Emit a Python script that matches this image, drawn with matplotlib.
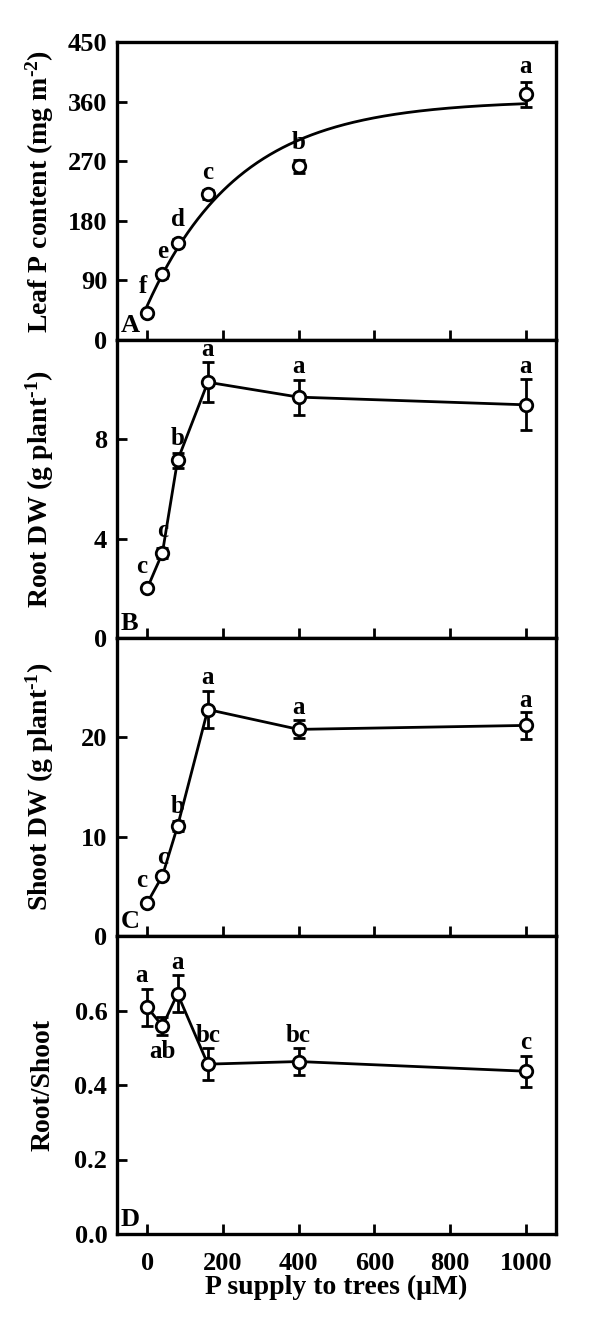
import numpy as np
import matplotlib
matplotlib.use('Agg')
import matplotlib.pyplot as plt

plt.rcParams['font.family'] = ['Liberation Serif', 'DejaVu Serif']
plt.rcParams['font.weight'] = 'bold'
plt.rcParams['mathtext.fontset'] = 'custom'
plt.rcParams['mathtext.rm'] = 'Liberation Serif:bold'
plt.rcParams['mathtext.it'] = 'Liberation Serif:bold'
plt.rcParams['mathtext.bf'] = 'Liberation Serif:bold'

# P supply levels (uM)
p_supply = [0, 40, 80, 160, 400, 1000]

# Panel A: leaf P content (mg m-2)
leaf_p = [41, 100, 147, 220, 262, 371]
leaf_p_err = [5, 6, 5, 7, 10, 19]
leaf_p_letters = ['f', 'e', 'd', 'c', 'b', 'a']
# fitted saturating curve  y = a - b*exp(-k x)
fit_a, fit_b, fit_k = 362.0, 310.0, 0.0041

# Panel B: root DW (g plant-1)
root_dw = [2.0, 3.43, 7.15, 10.3, 9.7, 9.39]
root_dw_err = [0.1, 0.2, 0.3, 0.8, 0.7, 1.03]
root_letters = ['c', 'c', 'b', 'a', 'a', 'a']

# Panel C: shoot DW (g plant-1)
shoot_dw = [3.35, 6.06, 11.05, 22.8, 20.8, 21.2]
shoot_dw_err = [0.2, 0.3, 0.5, 1.9, 0.9, 1.35]
shoot_letters = ['c', 'c', 'b', 'a', 'a', 'a']

# Panel D: root/shoot ratio
ratio = [0.609, 0.558, 0.645, 0.456, 0.463, 0.437]
ratio_err = [0.05, 0.025, 0.05, 0.043, 0.035, 0.042]
ratio_letters = ['a', 'ab', 'a', 'bc', 'bc', 'c']

# letter offsets in points (dx, dy); below=True puts the letter under the bar
offs_a = [(-3, 8), (0, 5), (0, 6), (0, 4), (0, 4), (0, 3)]
offs_b = [(-4, 6), (0, 4), (0, 2), (0, 1), (0, 1), (0, 1)]
offs_c = [(-4, 6), (0, 3), (0, 2), (0, 1), (0, 1), (0, 0)]
offs_d = [(-4, 1), (0, 3), (0, 1), (0, 1), (0, 1), (0, 1)]
below_d = [False, True, False, False, False, False]

panels = [
    dict(y=leaf_p, err=leaf_p_err, let=leaf_p_letters, offs=offs_a, ylim=(0, 450),
         ticks=[0, 90, 180, 270, 360, 450], labels=['0', '90', '180', '270', '360', '450'],
         ylabel='Leaf P content (mg m$^{\\text{-2}}$)', tag='A', line=False),
    dict(y=root_dw, err=root_dw_err, let=root_letters, offs=offs_b, ylim=(0, 12),
         ticks=[0, 4, 8], labels=['0', '4', '8'],
         ylabel='Root DW (g plant$^{\\text{-1}}$)', tag='B', line=True),
    dict(y=shoot_dw, err=shoot_dw_err, let=shoot_letters, offs=offs_c, ylim=(0, 30),
         ticks=[0, 10, 20], labels=['0', '10', '20'],
         ylabel='Shoot DW (g plant$^{\\text{-1}}$)', tag='C', line=True),
    dict(y=ratio, err=ratio_err, let=ratio_letters, offs=offs_d, ylim=(0, 0.8),
         ticks=[0, 0.2, 0.4, 0.6], labels=['0.0', '0.2', '0.4', '0.6'],
         ylabel='Root/Shoot', tag='D', line=True, below=below_d),
]

fig = plt.figure(figsize=(6, 13.3), dpi=100)
left, width = 117 / 600, 439 / 600
tops = [42, 340, 638, 936]
h = 298

for i, p in enumerate(panels):
    bottom = 1 - (tops[i] + h) / 1330
    ax = fig.add_axes([left, bottom, width, h / 1330])

    if p['line']:
        ax.plot(p_supply, p['y'], '-', color='black', lw=2.0, zorder=2)
    else:
        xf = np.linspace(0, 1000, 300)
        ax.plot(xf, fit_a - fit_b * np.exp(-fit_k * xf), '-', color='black', lw=2.0, zorder=2)

    ax.errorbar(p_supply, p['y'], yerr=p['err'], fmt='o', ms=9, mfc='white', mec='black',
                mew=2.0, ecolor='black', elinewidth=2.0, capsize=4.5, capthick=2.0, zorder=3)

    below = p.get('below', [False] * len(p_supply))
    for x, y, e, t, (dx, dy), b in zip(p_supply, p['y'], p['err'], p['let'], p['offs'], below):
        if b:
            ax.annotate(t, (x, y - e), xytext=(dx, -dy), textcoords='offset points',
                        ha='center', va='top', fontsize=18, fontweight='bold')
        else:
            ax.annotate(t, (x, y + e), xytext=(dx, dy), textcoords='offset points',
                        ha='center', va='bottom', fontsize=18, fontweight='bold')

    ax.set_xlim(-80, 1080)
    ax.set_ylim(*p['ylim'])
    ax.set_xticks([0, 200, 400, 600, 800, 1000])
    ax.set_yticks(p['ticks'])
    ax.set_yticklabels(p['labels'])
    ax.tick_params(direction='in', length=7, width=2.0, labelsize=19, pad=7)
    ax.tick_params(axis='x', pad=13)
    if i < 3:
        ax.tick_params(labelbottom=False)
    else:
        ax.set_xlabel('P supply to trees (\u03bcM)', fontsize=20, fontweight='bold', labelpad=0)
    for s in ax.spines.values():
        s.set_linewidth(2.4)
    ax.set_ylabel(p['ylabel'], fontsize=20, fontweight='bold')
    ax.yaxis.set_label_coords(-0.14, 0.5)
    ax.text(0.008, 0.01, p['tag'], transform=ax.transAxes, ha='left', va='bottom',
            fontsize=19, fontweight='bold')

fig.savefig('out.png', dpi=100)
